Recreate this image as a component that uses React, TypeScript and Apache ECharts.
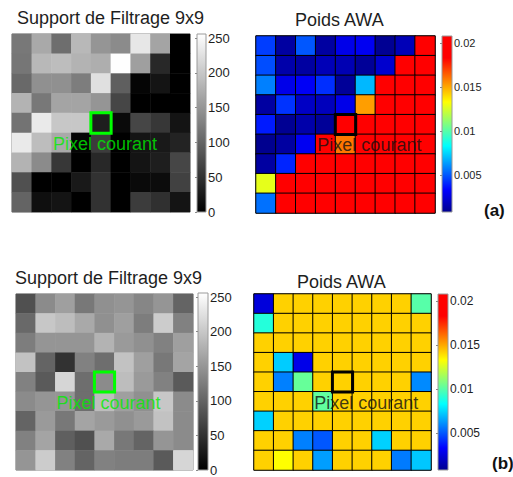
import React, { useEffect, useRef } from "react";
import * as echarts from "echarts";

const FONT = '"Liberation Sans", Arial, Helvetica, sans-serif';

const colCategories = ["1", "2", "3", "4", "5", "6", "7", "8", "9"];
const rowCategories = ["1", "2", "3", "4", "5", "6", "7", "8", "9"];

// (a) grey levels of the 9x9 filtering support, top row first
const grayA = [
  [120, 170, 110, 185, 150, 140, 232, 165, 0],
  [118, 185, 190, 180, 175, 255, 160, 40, 0],
  [105, 145, 145, 125, 225, 95, 5, 20, 0],
  [180, 120, 165, 165, 150, 70, 0, 0, 0],
  [115, 235, 200, 200, 30, 10, 70, 55, 20],
  [235, 190, 170, 5, 60, 0, 20, 25, 35],
  [180, 140, 55, 0, 40, 0, 20, 30, 70],
  [80, 0, 0, 25, 50, 0, 10, 12, 65],
  [100, 15, 20, 0, 50, 0, 60, 48, 20],
];

// (a) AWA weights
const weightsA = [
  [0.0045, 0.0012, 0.005, 0.0012, 0.0028, 0.003, 0.0009, 0.0017, 0.0195],
  [0.0048, 0.0014, 0.0012, 0.0017, 0.0016, 0.001, 0.0022, 0.0195, 0.0195],
  [0.0058, 0.0028, 0.0031, 0.0042, 0.001, 0.0069, 0.0195, 0.0195, 0.0195],
  [0.0012, 0.0043, 0.002, 0.0018, 0.0028, 0.0152, 0.0195, 0.0195, 0.0195],
  [0.0038, 0.0009, 0.0014, 0.001, 0.0195, 0.0195, 0.0185, 0.0195, 0.0195],
  [0.0008, 0.0012, 0.003, 0.0195, 0.016, 0.0195, 0.0195, 0.0195, 0.0195],
  [0.0012, 0.004, 0.0195, 0.0195, 0.0195, 0.0195, 0.0195, 0.0195, 0.0195],
  [0.0128, 0.0195, 0.0195, 0.0195, 0.0195, 0.0195, 0.0195, 0.0195, 0.0195],
  [0.0055, 0.0195, 0.0195, 0.0195, 0.0195, 0.0195, 0.0195, 0.0195, 0.0195],
];

// (b) grey levels
const grayB = [
  [80, 140, 160, 120, 145, 150, 135, 150, 100],
  [105, 200, 190, 170, 145, 160, 125, 205, 130],
  [125, 150, 150, 150, 180, 155, 145, 130, 160],
  [195, 100, 50, 130, 110, 195, 160, 120, 165],
  [130, 90, 215, 110, 140, 190, 155, 130, 90],
  [140, 150, 150, 110, 190, 160, 145, 200, 140],
  [100, 155, 120, 165, 155, 145, 155, 195, 140],
  [130, 165, 95, 80, 170, 120, 100, 150, 140],
  [150, 205, 130, 100, 130, 125, 125, 90, 215],
];

// (b) AWA weights
const G = 0.0142;
const weightsB = [
  [0.0025, G, G, G, G, G, G, G, 0.01],
  [0.009, G, G, G, G, G, G, G, G],
  [G, G, G, G, G, G, G, G, G],
  [G, 0.0073, 0.0028, G, G, G, G, G, G],
  [G, 0.0058, 0.0103, G, G, G, G, G, 0.006],
  [G, G, G, 0.0102, G, G, G, G, G],
  [0.0074, G, G, G, G, G, G, G, G],
  [G, G, 0.0058, 0.005, G, G, 0.0074, G, G],
  [G, 0.0133, G, 0.0064, G, G, G, 0.0057, 0.0072],
];

const grayTicks = [0, 50, 100, 150, 200, 250];
const weightTicks = [0.005, 0.01, 0.015, 0.02];
const grayRange = [0, 256];
const weightRange = [0.0008, 0.0208];
const currentPixel = [4, 4]; // [column, row]
const grayLabelCell = [4, 5];
const weightLabelCell = [5, 5];

const grayColors = ["#000000", "#ffffff"];
const jetColors = [
  "#00008f",
  "#0000ff",
  "#0080ff",
  "#00ffff",
  "#80ff80",
  "#ffff00",
  "#ff8000",
  "#ff0000",
  "#ff0000",
];

const panels = [
  {
    kind: "gray",
    title: "Support de Filtrage 9x9",
    data: grayA,
    titlePos: { left: 17, top: 9 },
    grid: { left: 12, top: 34, width: 178, height: 178 },
    bar: { left: 197, top: 34, width: 9, height: 178 },
    labelSize: 13,
  },
  {
    kind: "weight",
    title: "Poids AWA",
    data: weightsA,
    titlePos: { left: 295, top: 11 },
    grid: { left: 256, top: 36, width: 179, height: 177 },
    bar: { left: 442, top: 36, width: 10, height: 176 },
    labelSize: 11,
  },
  {
    kind: "gray",
    title: "Support de Filtrage 9x9",
    data: grayB,
    titlePos: { left: 15, top: 269 },
    grid: { left: 16, top: 294, width: 177, height: 176 },
    bar: { left: 198, top: 293, width: 10, height: 177 },
    labelSize: 13,
  },
  {
    kind: "weight",
    title: "Poids AWA",
    data: weightsB,
    titlePos: { left: 297, top: 273 },
    grid: { left: 254, top: 294, width: 177, height: 176 },
    bar: { left: 438, top: 294, width: 10, height: 176 },
    labelSize: 12,
  },
];

function toCells(m: number[][]) {
  const out: number[][] = [];
  m.forEach((row, r) => row.forEach((v, c) => out.push([c, r, v])));
  return out;
}

function gradient(colors: string[]) {
  return new echarts.graphic.LinearGradient(
    0,
    1,
    0,
    0,
    colors.map((color, i) => ({ offset: i / (colors.length - 1), color }))
  );
}

function buildOption() {
  const grid: any[] = [];
  const xAxis: any[] = [];
  const yAxis: any[] = [];
  const series: any[] = [];
  const visualMap: any[] = [];
  const title: any[] = [];

  panels.forEach((p) => {
    const isGray = p.kind === "gray";
    const colors = isGray ? grayColors : jetColors;
    const range = isGray ? grayRange : weightRange;
    const ticks = isGray ? grayTicks : weightTicks;
    const hi = isGray ? "#00ff00" : "#000000";

    title.push({
      text: p.title,
      left: p.titlePos.left,
      top: p.titlePos.top,
      padding: 0,
      textStyle: { fontFamily: FONT, fontSize: 18, fontWeight: "normal", color: "#1e1e1e" },
    });

    // heatmap grid
    grid.push({
      ...p.grid,
      show: true,
      backgroundColor: "transparent",
      borderColor: "#7a7a7a",
      borderWidth: 1,
    });
    const gi = grid.length - 1;
    xAxis.push({ type: "category", data: colCategories, gridIndex: gi, show: false });
    yAxis.push({ type: "category", data: rowCategories, gridIndex: gi, inverse: true, show: false });
    const ai = xAxis.length - 1;

    // colorbar grid
    grid.push({
      ...p.bar,
      show: true,
      backgroundColor: gradient(colors),
      borderColor: "#9a9a9a",
      borderWidth: 1,
    });
    const bi = grid.length - 1;
    xAxis.push({ type: "value", gridIndex: bi, show: false, min: 0, max: 1 });
    yAxis.push({
      type: "value",
      gridIndex: bi,
      position: "right",
      min: range[0],
      max: range[1],
      splitLine: { show: false },
      axisLine: { show: false },
      axisTick: {
        show: true,
        inside: true,
        length: 2,
        lineStyle: { color: "#888" },
        customValues: ticks,
      },
      axisLabel: {
        customValues: ticks,
        margin: 2,
        fontFamily: FONT,
        fontSize: p.labelSize,
        color: "#1e1e1e",
        formatter: (v: number) => String(v),
      },
    });

    const si = series.length;
    series.push({
      type: "heatmap",
      name: p.title,
      xAxisIndex: ai,
      yAxisIndex: ai,
      data: toCells(p.data),
      itemStyle: isGray
        ? { borderWidth: 0 }
        : { borderColor: "#000000", borderWidth: 1 },
      emphasis: { disabled: true },
      z: 2,
    });
    visualMap.push({
      type: "continuous",
      show: false,
      seriesIndex: si,
      dimension: 2,
      min: range[0],
      max: range[1],
      inRange: { color: colors },
    });

    const v = p.data[currentPixel[1]][currentPixel[0]];
    const bx = series.length;
    series.push({
      type: "heatmap",
      name: "pixel",
      xAxisIndex: ai,
      yAxisIndex: ai,
      data: [[currentPixel[0], currentPixel[1], v]],
      itemStyle: { borderColor: hi, borderWidth: 3 },
      emphasis: { disabled: true },
      z: 4,
    });
    visualMap.push({
      type: "continuous",
      show: false,
      seriesIndex: bx,
      dimension: 2,
      min: range[0],
      max: range[1],
      inRange: { color: ["rgba(0,0,0,0)", "rgba(0,0,0,0)"] },
    });

    const lc = isGray ? grayLabelCell : weightLabelCell;
    series.push({
      type: "scatter",
      name: "label",
      xAxisIndex: ai,
      yAxisIndex: ai,
      data: [[lc[0], lc[1]]],
      symbolSize: 0,
      silent: true,
      z: 6,
      label: {
        show: true,
        position: "inside",
        offset: [4, 1],
        formatter: "Pixel courant",
        fontFamily: FONT,
        fontSize: 18,
        color: isGray ? "#00ee00" : "#111111",
      },
    });
  });

  return {
    animation: false,
    backgroundColor: "#ffffff",
    title,
    grid,
    xAxis,
    yAxis,
    visualMap,
    series,
    graphic: [
      {
        type: "text",
        left: 484,
        top: 202,
        style: { text: "(a)", font: `bold 17px ${FONT}`, fill: "#111" },
      },
      {
        type: "text",
        left: 492,
        top: 455,
        style: { text: "(b)", font: `bold 17px ${FONT}`, fill: "#111" },
      },
    ],
  };
}

export default function App() {
  const ref = useRef<HTMLDivElement>(null);
  useEffect(() => {
    if (!ref.current) return;
    const chart = echarts.init(ref.current, null, { renderer: "svg" });
    chart.setOption(buildOption() as any);
    return () => chart.dispose();
  }, []);
  return (
    <div
      ref={ref}
      style={{ position: "fixed", left: 0, top: 0, width: 513, height: 477, background: "#fff" }}
    />
  );
}
